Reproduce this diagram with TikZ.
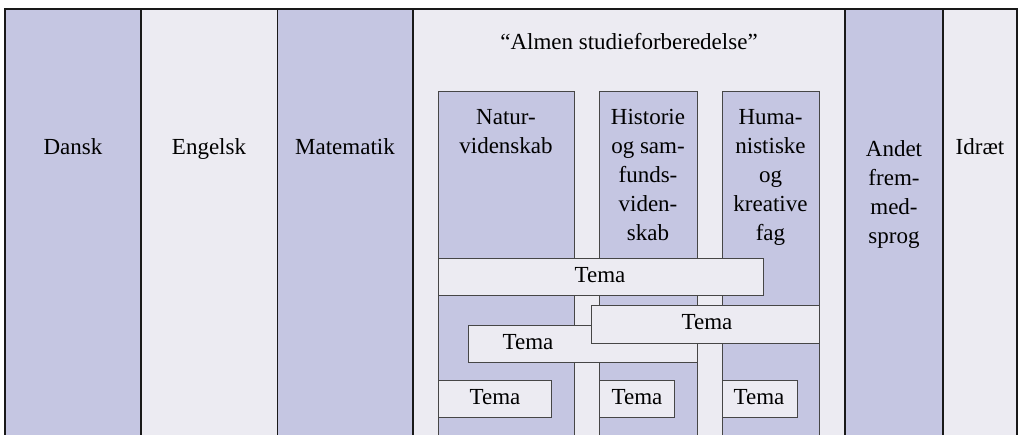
\documentclass[tikz,border=0pt]{standalone}
\usepackage{fontspec}
\setmainfont{Liberation Serif}
\definecolor{colA}{RGB}{197,198,226}
\definecolor{colB}{RGB}{236,235,242}
\definecolor{lineA}{RGB}{25,25,25}
\definecolor{lineB}{RGB}{70,70,70}
\begin{document}
\begin{tikzpicture}[x=1pt,y=-1pt,
  txt/.style={font=\fontsize{23}{29}\selectfont, inner sep=0pt, align=center, text=black},
  outer/.style={draw=lineA, line width=1.4pt},
  inner/.style={draw=lineB, line width=1pt},
  tbox/.style={draw=lineB, line width=1pt, fill=colB, inner sep=0pt, minimum height=37pt}]
\useasboundingbox (0,0) rectangle (1019,435);
% main columns
\fill[colA] (5,9) rectangle (141,435);
\fill[colB] (141,9) rectangle (277.5,435);
\fill[colA] (277.5,9) rectangle (413,435);
\fill[colB] (413,9) rectangle (845,435);
\fill[colA] (845,9) rectangle (943,435);
\fill[colB] (943,9) rectangle (1017,435);
\draw[outer] (5,435) |- (1017,9) -- (1017,435);
\foreach \x in {141,277.5,413,845,943} \draw[outer] (\x,9) -- (\x,435);
% inner columns
\fill[colA] (438,92) rectangle (574,435);
\draw[inner] (438,435) |- (574,92) -- (574,435);
\fill[colA] (599,92) rectangle (697,435);
\draw[inner] (599,435) |- (697,92) -- (697,435);
\fill[colA] (722,92) rectangle (819,435);
\draw[inner] (722,435) |- (819,92) -- (819,435);
% column labels
\node[txt, anchor=base] (dansk) at (73,155) {Dansk};
\node[txt, anchor=base] (engelsk) at (209,155) {Engelsk};
\node[txt, anchor=base] (matematik) at (345,155) {Matematik};
\node[txt, anchor=base] (almen) at (629,50) {“Almen studieforberedelse”};
\node[txt, anchor=north] (natur) at (506,109.5) {Natur-\\videnskab};
\node[txt, anchor=north] (historie) at (648,109.5) {Historie\\og sam-\\funds-\\viden-\\skab};
\node[txt, anchor=north] (huma) at (770.5,109.5) {Huma-\\nistiske\\og\\kreative\\fag};
\node[txt, anchor=north] (andet) at (894,140) {Andet\\frem-\\med-\\sprog};
\node[txt, anchor=base] (idraet) at (980,155) {Idræt};
% Tema boxes
\node[tbox, minimum width=325pt] (tA) at (600.5,277.5) {};
\node[tbox, minimum width=229pt] (tC) at (582.5,343.5) {};
\node[tbox, minimum width=228pt] (tB) at (705,324.5) {};
\node[tbox, minimum width=113pt] (b1) at (494.5,398.5) {};
\node[tbox, minimum width=75pt] (b2) at (636.5,398.5) {};
\node[tbox, minimum width=75pt] (b3) at (759.5,398.5) {};
\node[txt, anchor=base] (tAt) at (600,283) {Tema};
\node[txt, anchor=base] (tBt) at (707,330) {Tema};
\node[txt, anchor=base] (tCt) at (528,349) {Tema};
\node[txt, anchor=base] (b1t) at (495,404) {Tema};
\node[txt, anchor=base] (b2t) at (637,404) {Tema};
\node[txt, anchor=base] (b3t) at (759,404) {Tema};
\end{tikzpicture}
\end{document}
